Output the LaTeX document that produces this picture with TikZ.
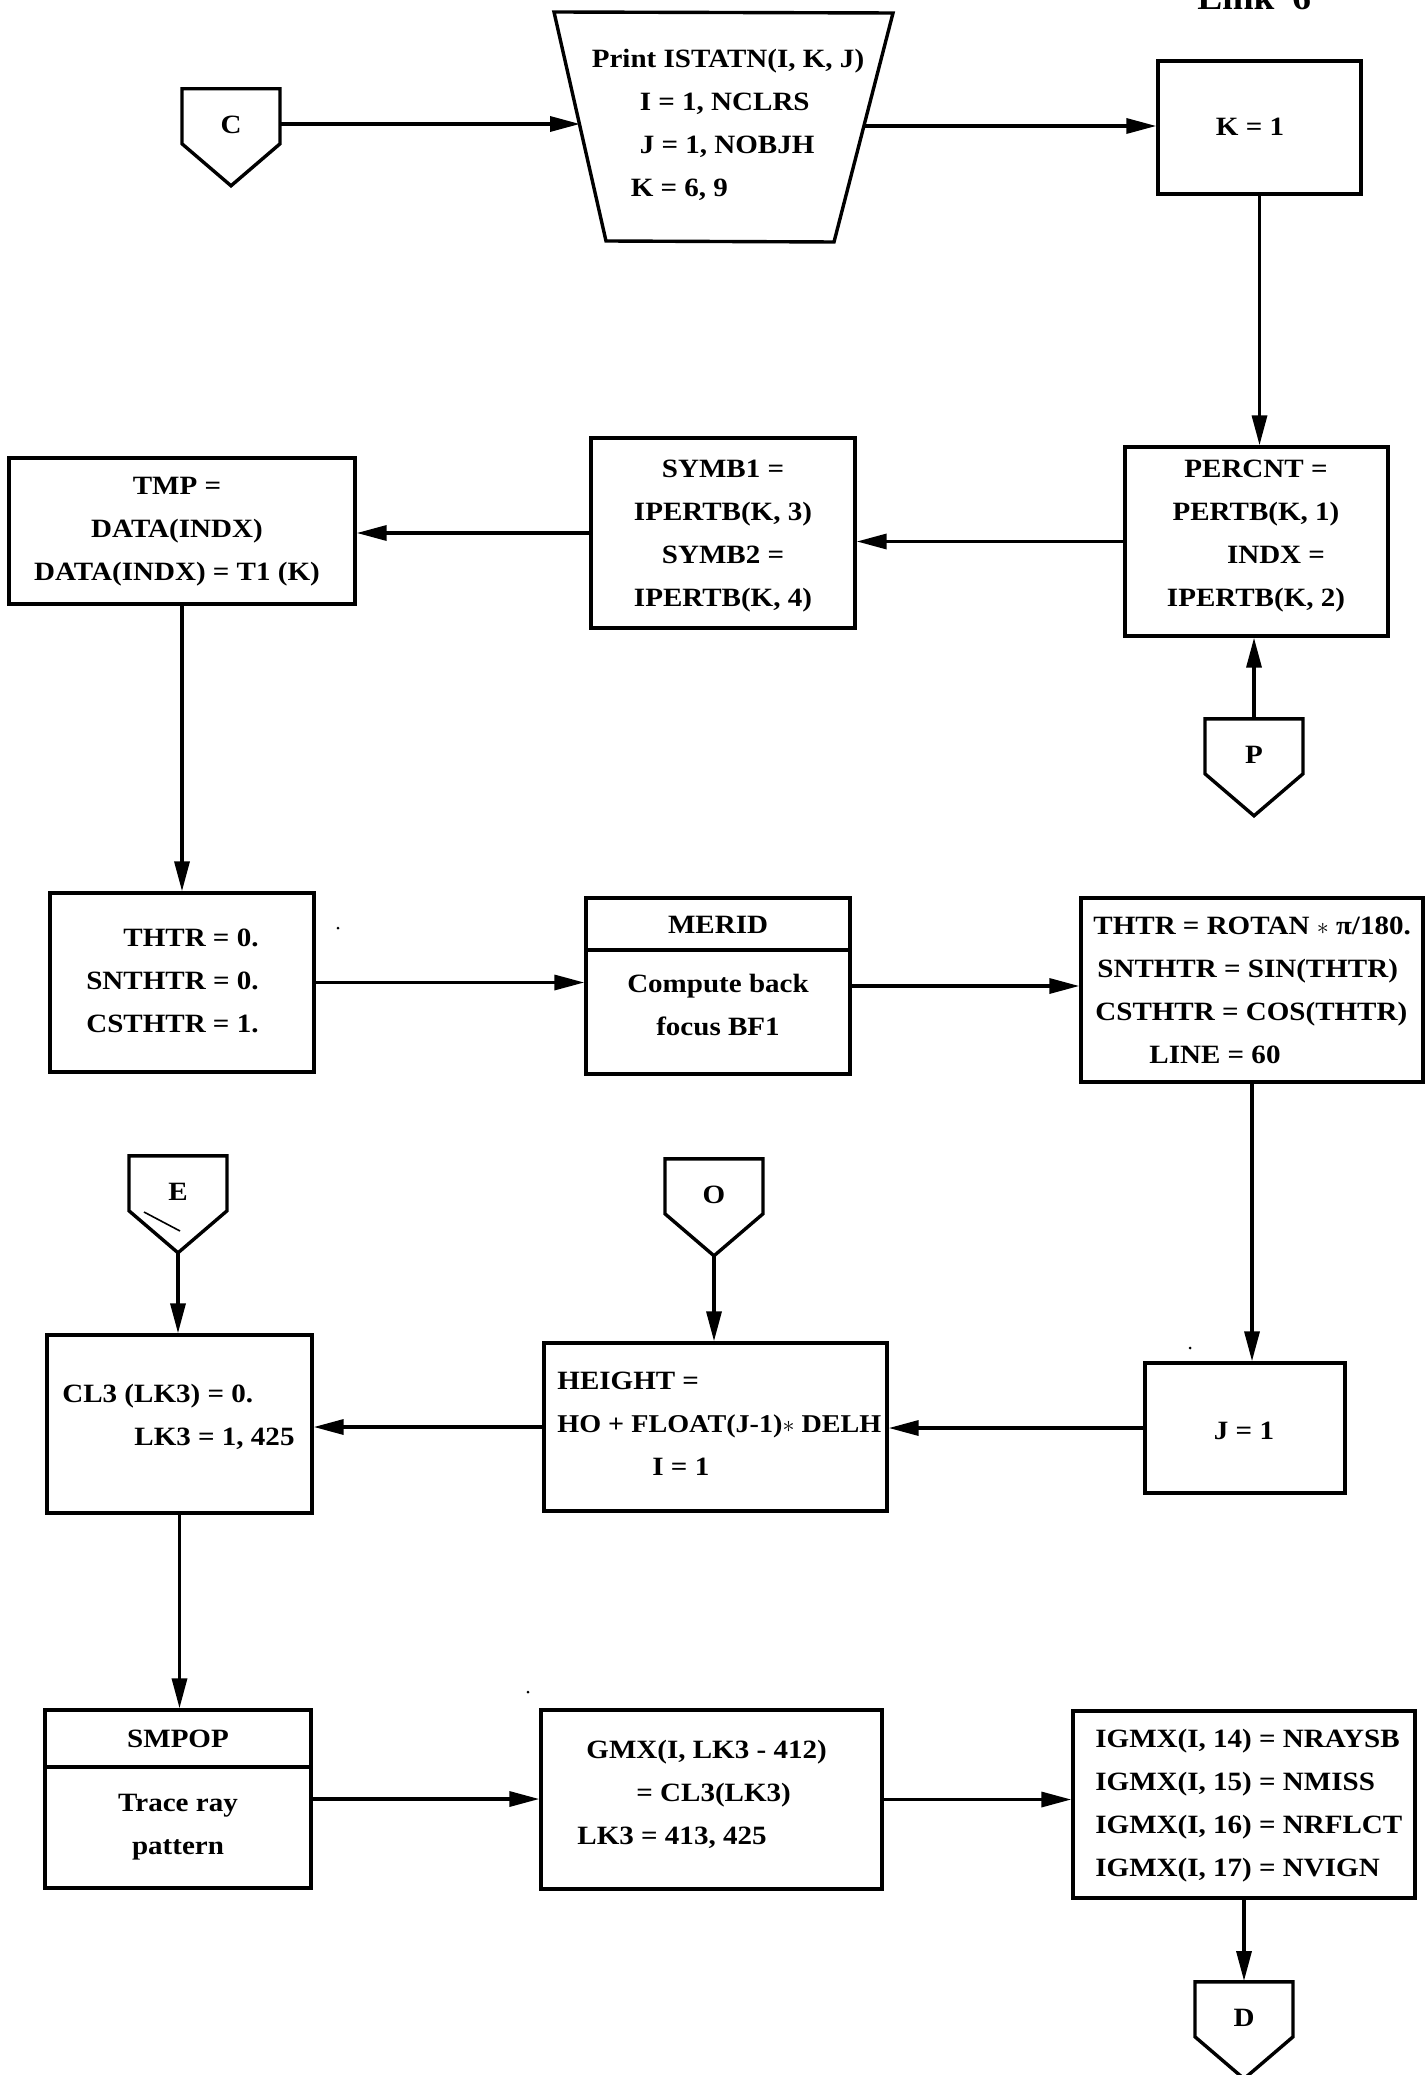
\documentclass[tikz,border=0pt]{standalone}
\usepackage{fontspec}
\setmainfont[FakeStretch=1.1]{Liberation Serif}
\usetikzlibrary{arrows.meta,fit}
\newcommand\diafont{\fontsize{13.2}{21.5}\selectfont\bfseries}
\newcommand\offpage[4]{%
  \node[conn] (#1) at (#2,#3) {\raisebox{12pt}{#4}};
  \draw[lw] (#1.south) -- ++(-49,-42) -- ++(0,-55) -- ++(98,0) -- ++(0,55) -- cycle;}
\begin{document}
\begin{tikzpicture}[x=0.5pt,y=-0.5pt,
  lw/.style={line width=1.7pt},
  box/.style={draw, line width=1.7pt, inner sep=0pt},
  txt/.style={inner sep=0pt, align=center, font=\diafont},
  conn/.style={minimum width=49pt, minimum height=48.5pt, inner sep=0pt, anchor=north, font=\diafont},
  arr/.style={line width=1.7pt, -{Triangle[length=15pt,width=7.5pt]}},
]
\path[fill=white, use as bounding box] (0,0) rectangle (1427,2075);

\node[txt, anchor=base west, font=\fontsize{17}{19}\selectfont\bfseries] (link) at (1197,10) {Link\hspace{9pt}6};

% top row
\offpage{C}{231}{88}{C}
\coordinate (tTL) at (554,12);
\coordinate (tTR) at (893,13);
\coordinate (tBR) at (834,242);
\coordinate (tBL) at (606,241);
\draw[lw] (tTL) -- (tTR) -- (tBR) -- (tBL) -- cycle;
\node[txt, align=left] (trap) at (728,125) {Print ISTATN(I, K, J)\\ \hspace*{24pt}I = 1, NCLRS\\ \hspace*{24pt}J = 1, NOBJH\\ \hspace*{19.5pt}K = 6, 9};
\coordinate (trapL) at (580,124);
\coordinate (trapR) at (865,126);
\node[box, fit={(1158,61) (1361,194)}] (K1) {};
\node[txt] (K1t) at (1250,127) {K = 1};

% second row
\node[box, fit={(1125,447) (1388,636)}] (PERCNT) {};
\node[txt] (PERCNTt) at (1256,536) {PERCNT =\\ PERTB(K, 1)\\ \hspace*{20pt}INDX =\\ IPERTB(K, 2)};
\node[box, fit={(591,438) (855,628)}] (SYMB) {};
\node[txt] (SYMBt) at (723,536) {SYMB1 =\\ IPERTB(K, 3)\\ SYMB2 =\\ IPERTB(K, 4)};
\node[box, fit={(9,458) (355,604)}] (TMP) {};
\node[txt] (TMPt) at (177,532) {TMP =\\ DATA(INDX)\\ DATA(INDX) = T1 (K)};
\offpage{P}{1254}{718}{P}

% third row
\node[box, fit={(50,893) (314,1072)}] (THTR) {};
\node[txt, align=right, anchor=east] (THTRt) at (259,981) {THTR = 0.\\ SNTHTR = 0.\\ CSTHTR = 1.};
\node[box, fit={(586,898) (850,1074)}] (MERID) {};
\coordinate (mdiv) at (0,950);
\draw[lw] (MERID.west |- mdiv) -- (MERID.east |- mdiv);
\node[txt] (MERIDh) at (718,925) {MERID};
\node[txt] (MERIDb) at (718,1005) {Compute back\\ focus BF1};
\node[box, fit={(1081,898) (1423,1082)}] (THTR2) {};
\node[txt, align=left, anchor=west] (THTR2t) at (1093,990) {THTR = ROTAN $*$ π/180.\\ \hspace*{2pt}SNTHTR = SIN(THTR)\\ \hspace*{1pt}CSTHTR = COS(THTR)\\ \hspace*{28pt}LINE = 60};

% fourth row
\offpage{E}{178}{1155}{E}
\draw[line width=0.8pt] (144,1212) -- (180,1231);
\offpage{O}{714}{1158}{O}
\node[box, fit={(47,1335) (312,1513)}] (CL3) {};
\node[txt, align=left, anchor=west] (CL3t) at (62,1417) {CL3 (LK3) = 0.\\ \hspace*{36pt}LK3 = 1, 425};
\node[box, fit={(544,1343) (887,1511)}] (HEIGHT) {};
\node[txt, align=left, anchor=west] (HEIGHTt) at (557,1424) {HEIGHT =\\ {\fontsize{12.8}{21.5}\selectfont HO + FLOAT(J-1)$*$ DELH}\\ \hspace*{47.5pt}I = 1};
\node[box, fit={(1145,1363) (1345,1493)}] (J1) {};
\node[txt] (J1t) at (1244,1431) {J = 1};

% fifth row
\node[box, fit={(45,1710) (311,1888)}] (SMPOP) {};
\coordinate (sdiv) at (0,1767);
\draw[lw] (SMPOP.west |- sdiv) -- (SMPOP.east |- sdiv);
\node[txt] (SMPOPh) at (178,1739) {SMPOP};
\node[txt] (SMPOPb) at (178,1827) {Trace ray\\ pattern};
\node[box, fit={(541,1710) (882,1889)}] (GMX) {};
\node[txt, align=left, anchor=west] (GMXt) at (577,1794) {\hspace*{4.5pt}GMX(I, LK3 - 412)\\ \hspace*{29.5pt}= CL3(LK3)\\ LK3 = 413, 425};
\node[box, fit={(1073,1711) (1415,1898)}] (IGMX) {};
\node[txt, align=left, anchor=west] (IGMXt) at (1095,1806) {IGMX(I, 14) = NRAYSB\\ IGMX(I, 15) = NMISS\\ IGMX(I, 16) = NRFLCT\\ IGMX(I, 17) = NVIGN};
\offpage{D}{1244}{1981}{D}

% specks
\fill (338,928) circle (1.5);
\fill (1190,1348) circle (1.5);
\fill (528,1692) circle (1.5);

% connectors
\draw[arr] (C.east |- trapL) -- (trapL);
\draw[arr] (trapR) -- (trapR -| K1.west);
\draw[arr] (K1.south) -- (K1.south |- PERCNT.north);
\draw[arr] (P.north) -- (P.north |- PERCNT.south);
\draw[arr] (PERCNT.west) -- (PERCNT.west -| SYMB.east);
\draw[arr] (SYMB.west) -- (SYMB.west -| TMP.east);
\draw[arr] (TMP.south) -- (TMP.south |- THTR.north);
\draw[arr] (THTR.east) -- (THTR.east -| MERID.west);
\draw[arr] (MERID.east) -- (MERID.east -| THTR2.west);
\draw[arr] (THTR2.south) -- (THTR2.south |- J1.north);
\draw[arr] (J1.west) -- (J1.west -| HEIGHT.east);
\draw[arr] (HEIGHT.west) -- (HEIGHT.west -| CL3.east);
\draw[arr] (O.south) -- (O.south |- HEIGHT.north);
\draw[arr] (E.south) -- (E.south |- CL3.north);
\draw[arr] (CL3.south) -- (CL3.south |- SMPOP.north);
\draw[arr] (SMPOP.east) -- (SMPOP.east -| GMX.west);
\draw[arr] (GMX.east) -- (GMX.east -| IGMX.west);
\draw[arr] (IGMX.south) -- (IGMX.south |- D.north);
\end{tikzpicture}
\end{document}
